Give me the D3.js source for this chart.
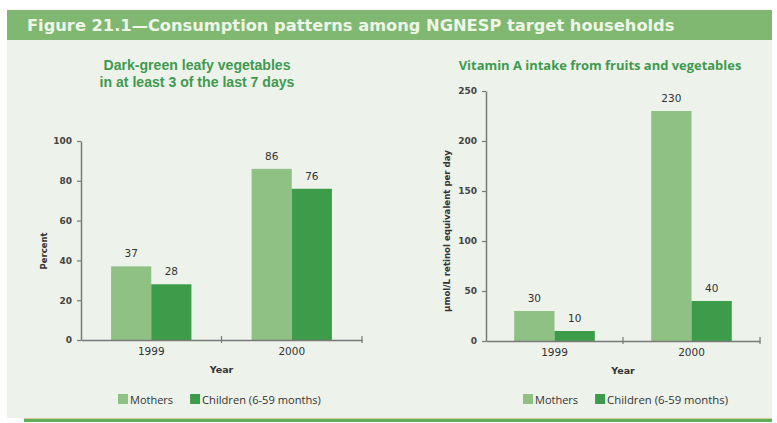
<!DOCTYPE html>
<html>
<head>
<meta charset="utf-8">
<script src="https://cdn.jsdelivr.net/npm/d3@7"></script>
<style>
  html, body { margin: 0; padding: 0; background: #ffffff; }
  svg { display: block; }
</style>
</head>
<body>
<svg id="fig" width="777" height="423"></svg>
<script>
// Figure data
const figureTitle = "Figure 21.1\u2014Consumption patterns among NGNESP target households";
const years = ["1999", "2000"];
const seriesNames = ["Mothers", "Children (6-59 months)"];
const seriesColors = ["#8fc084", "#3c9c4a"];

// Left panel: share consuming dark-green leafy vegetables (percent)
const leafyTitle = ["Dark-green leafy vegetables", "in at least 3 of the last 7 days"];
const leafyMothers = [37, 86];
const leafyChildren = [28, 76];
const leafyTicks = [0, 20, 40, 60, 80, 100];

// Right panel: vitamin A intake from fruits and vegetables
const vitATitle = ["Vitamin A intake from fruits and vegetables"];
const vitAMothers = [30, 230];
const vitAChildren = [10, 40];
const vitATicks = [0, 50, 100, 150, 200, 250];

const svg = d3.select("#fig");
const font = "'DejaVu Sans', Verdana, sans-serif";

// Scale a text element's font size so it spans the given width
function fitWidth(sel, width) {
  const size = parseFloat(sel.attr("font-size"));
  const w = sel.node().getComputedTextLength();
  if (w > 0) sel.attr("font-size", (size * width / w).toFixed(2));
  return sel;
}

// Panel background, header band and footer rule
svg.append("rect").attr("x", 7).attr("y", 10).attr("width", 765).attr("height", 408)
  .attr("fill", "#edf2eb");
svg.append("rect").attr("x", 7).attr("y", 10).attr("width", 765).attr("height", 30)
  .attr("fill", "#80b871");
const head = svg.append("text").attr("x", 27).attr("y", 30.5)
  .attr("font-family", font).attr("font-weight", "bold").attr("font-size", 15)
  .attr("fill", "#eef6e8").text(figureTitle);
fitWidth(head, 648);
svg.append("rect").attr("x", 24).attr("y", 418).attr("width", 748).attr("height", 1)
  .attr("fill", "#d8c79a");
svg.append("rect").attr("x", 24).attr("y", 419).attr("width", 748).attr("height", 3)
  .attr("fill", "#5fae5a");

function drawPanel(cfg) {
  const g = svg.append("g");
  const x0 = d3.scaleBand().domain(years).range([cfg.left, cfg.right]).paddingInner(0).paddingOuter(0);
  const x1 = d3.scaleBand().domain(seriesNames).range([0, x0.bandwidth()])
    .paddingInner(0).paddingOuter(cfg.groupPad);
  const y = d3.scaleLinear().domain([0, cfg.max]).range([cfg.bottom, cfg.top]);

  const rows = years.map((yr, i) => ({
    year: yr,
    values: [
      { name: seriesNames[0], value: cfg.mothers[i], color: seriesColors[0] },
      { name: seriesNames[1], value: cfg.children[i], color: seriesColors[1] }
    ]
  }));

  // Titles: the longest line sets the common font size
  const titleEls = cfg.title.map((line, i) =>
    g.append("text").attr("x", cfg.titleX).attr("y", cfg.titleY + i * 17)
      .attr("text-anchor", "middle").attr("font-family", cfg.titleFont)
      .attr("font-weight", "bold").attr("font-size", 12)
      .attr("fill", "#3f9a4f").text(line));
  const longest = titleEls.reduce((a, b) =>
    b.node().getComputedTextLength() > a.node().getComputedTextLength() ? b : a);
  fitWidth(longest, cfg.titleWidth);
  titleEls.forEach(t => t.attr("font-size", longest.attr("font-size")));

  // Bars
  const grp = g.selectAll("g.grp").data(rows).join("g").attr("class", "grp")
    .attr("transform", d => `translate(${x0(d.year)},0)`);
  grp.selectAll("rect").data(d => d.values).join("rect")
    .attr("x", d => x1(d.name)).attr("width", x1.bandwidth())
    .attr("y", d => y(d.value)).attr("height", d => y(0) - y(d.value))
    .attr("fill", d => d.color);
  grp.selectAll("text.val").data(d => d.values).join("text").attr("class", "val")
    .attr("x", d => x1(d.name) + x1.bandwidth() / 2).attr("y", d => y(d.value) - 9)
    .attr("text-anchor", "middle").attr("font-family", font).attr("font-size", 10.5)
    .attr("fill", "#333").text(d => d.value);

  // Y axis
  const ya = g.append("g").attr("transform", `translate(${cfg.left},0)`)
    .call(d3.axisLeft(y).tickValues(cfg.ticks).tickSize(4).tickSizeOuter(0).tickPadding(5));
  ya.select(".domain").attr("stroke", "#7a7a7a").attr("stroke-width", 1.5);
  ya.selectAll(".tick line").attr("stroke", "#7a7a7a").attr("stroke-width", 1.2);
  ya.selectAll(".tick text").attr("font-family", font).attr("font-size", 9)
    .attr("font-weight", "bold").attr("fill", "#444");

  // X axis with category labels
  const xa = g.append("g").attr("transform", `translate(0,${cfg.bottom})`)
    .call(d3.axisBottom(x0).tickSize(0).tickSizeOuter(0).tickPadding(8));
  xa.select(".domain").attr("stroke", "#7a7a7a").attr("stroke-width", 1.5);
  xa.selectAll(".tick text").attr("font-family", font).attr("font-size", 10.5)
    .attr("fill", "#333");
  // Ticks on category boundaries
  const bounds = years.slice(1).map(yr => x0(yr)).concat([cfg.right]);
  g.selectAll("line.bnd").data(bounds).join("line").attr("class", "bnd")
    .attr("x1", d => d).attr("x2", d => d)
    .attr("y1", cfg.bottom - 4).attr("y2", cfg.bottom + 3)
    .attr("stroke", "#7a7a7a").attr("stroke-width", 1.2);

  // Axis titles
  g.append("text").attr("x", (cfg.left + cfg.right) / 2).attr("y", cfg.bottom + 33)
    .attr("text-anchor", "middle").attr("font-family", font).attr("font-weight", "bold")
    .attr("font-size", 9.5).attr("fill", "#333").text("Year");
  const yl = g.append("text")
    .attr("transform", `translate(${cfg.yLabelX},${cfg.yLabelY}) rotate(-90)`)
    .attr("text-anchor", "middle").attr("font-family", font).attr("font-weight", "bold")
    .attr("font-size", 9).attr("fill", "#333").text(cfg.yLabel);
  fitWidth(yl, cfg.yLabelWidth);

  // Legend
  const lg = g.append("g").attr("transform", `translate(${cfg.legendX},${cfg.legendY})`);
  let lx = 0;
  seriesNames.forEach((name, i) => {
    lg.append("rect").attr("x", lx).attr("y", -8).attr("width", 10).attr("height", 10)
      .attr("fill", seriesColors[i]);
    const t = lg.append("text").attr("x", lx + 12).attr("y", 1.5)
      .attr("font-family", "'Open Sans', sans-serif").attr("font-size", 11)
      .attr("fill", "#333").text(name);
    if (i === 1) fitWidth(t, cfg.legendWidth);
    lx += 12 + t.node().getComputedTextLength() + 17;
  });
}

drawPanel({
  left: 81, right: 362, top: 141, bottom: 340, max: 100, ticks: leafyTicks,
  mothers: leafyMothers, children: leafyChildren, groupPad: 0.75,
  title: leafyTitle, titleX: 197, titleY: 69.5, titleWidth: 195,
  titleFont: "'Liberation Sans', Arial, sans-serif",
  yLabel: "Percent", yLabelX: 47, yLabelY: 251, yLabelWidth: 37,
  legendX: 118, legendY: 402, legendWidth: 119
});

drawPanel({
  left: 486, right: 760, top: 91, bottom: 341, max: 250, ticks: vitATicks,
  mothers: vitAMothers, children: vitAChildren, groupPad: 0.7,
  title: vitATitle, titleX: 600, titleY: 69.5, titleWidth: 283,
  titleFont: "'Open Sans', sans-serif",
  yLabel: "\u00b5mol/L retinol equivalent per day", yLabelX: 450, yLabelY: 231, yLabelWidth: 162,
  legendX: 523, legendY: 402, legendWidth: 121
});
</script>
</body>
</html>
